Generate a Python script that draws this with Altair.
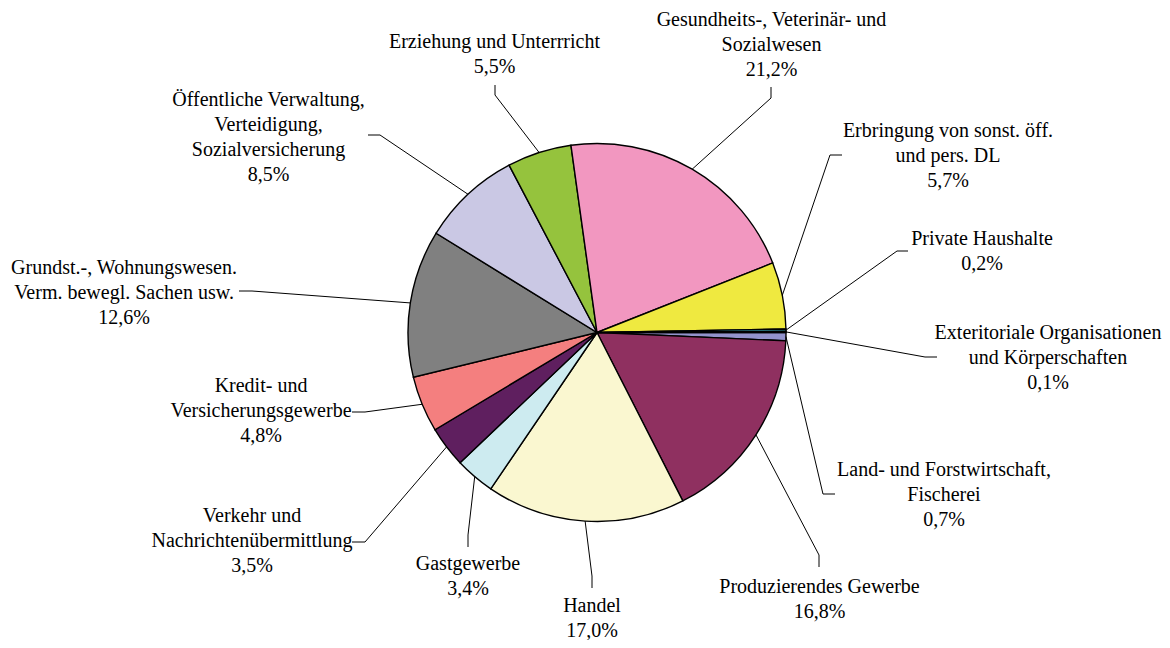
import math
import altair as alt
import pandas as pd

# ---------------- data ----------------
names = [
    "Land- und Forstwirtschaft, Fischerei",
    "Produzierendes Gewerbe",
    "Handel",
    "Gastgewerbe",
    "Verkehr und Nachrichtenübermittlung",
    "Kredit- und Versicherungsgewerbe",
    "Grundst.-, Wohnungswesen. Verm. bewegl. Sachen usw.",
    "Öffentliche Verwaltung, Verteidigung, Sozialversicherung",
    "Erziehung und Unterrricht",
    "Gesundheits-, Veterinär- und Sozialwesen",
    "Erbringung von sonst. öff. und pers. DL",
    "Private Haushalte",
    "Exteritoriale Organisationen und Körperschaften",
]
label_lines = [
    ["Land- und Forstwirtschaft,", "Fischerei"],
    ["Produzierendes Gewerbe"],
    ["Handel"],
    ["Gastgewerbe"],
    ["Verkehr und", "Nachrichtenübermittlung"],
    ["Kredit- und", "Versicherungsgewerbe"],
    ["Grundst.-, Wohnungswesen.", "Verm. bewegl. Sachen usw."],
    ["Öffentliche Verwaltung,", "Verteidigung,", "Sozialversicherung"],
    ["Erziehung und Unterrricht"],
    ["Gesundheits-, Veterinär- und", "Sozialwesen"],
    ["Erbringung von sonst. öff.", "und pers. DL"],
    ["Private Haushalte"],
    ["Exteritoriale Organisationen", "und Körperschaften"],
]
shares = [0.7, 16.8, 17.0, 3.4, 3.5, 4.8, 12.6, 8.5, 5.5, 21.2, 5.7, 0.2, 0.1]

# ---------------- styles / layout ----------------
colors = ["#9393cc", "#8f3060", "#faf7d0", "#cdebf0", "#5f1f5f", "#f47f7f",
          "#808080", "#cac8e4", "#95c33d", "#f297c0", "#efe940", "#45c3d2", "#336699"]

MARGIN = 8          # page margin
W, H = 1154, 632    # chart size
CX, CY, R = 597 - MARGIN, 332.5 - MARGIN, 189   # pie centre / radius (chart px)
LINE_H = 25
FONT = "Liberation Serif"
FONT_SIZE = 20

# label anchor (page px): centre x, first line centre y
label_x = [944, 819.5, 592, 468, 252, 261, 124, 268.5, 494.5, 771.5, 948, 982, 1048]
label_y = [470, 587, 606, 564, 516, 386, 268, 100, 42, 20, 131, 239, 333]
# leader line elbow and end (page px)
elbow_x = [823, 819, 592, 468, 365, 365, 252, 380, 495, 771, 830, 897, 925]
elbow_y = [494, 555, 576, 535, 542, 412, 291, 135, 95, 98, 155, 251, 357]
end_x = [835, 819, 592, 468, 352, 352, 239, 368, 495, 771, 842, 908, 937]
end_y = [494, 567, 588, 547, 542, 412, 291, 135, 85, 87, 155, 251, 357]

df = pd.DataFrame({
    "idx": list(range(len(names))),
    "name": names,
    "share": shares,
    "bx": [v - MARGIN for v in elbow_x],
    "by": [v - MARGIN for v in elbow_y],
    "qx": [v - MARGIN for v in end_x],
    "qy": [v - MARGIN for v in end_y],
})

rows = []
for i, (lines, v) in enumerate(zip(label_lines, shares)):
    all_lines = lines + [f"{v:.1f}".replace(".", ",") + "%"]
    for j, t in enumerate(all_lines):
        rows.append({"tx": label_x[i] - MARGIN,
                     "ty": label_y[i] - MARGIN + j * LINE_H,
                     "text": t})
text_df = pd.DataFrame(rows)

# ---------------- chart ----------------
start = math.pi / 2
pie = alt.Chart(df).mark_arc(
    x=CX, y=CY, outerRadius=R, stroke="black", strokeWidth=1.4
).encode(
    theta=alt.Theta("share:Q", stack=True,
                    scale=alt.Scale(range=[start, start + 2 * math.pi])),
    color=alt.Color("name:N", scale=alt.Scale(domain=names, range=colors), legend=None),
    order=alt.Order("idx:Q", sort="ascending"),
)

lead = alt.Chart(df).transform_window(
    cum="sum(share)", sort=[alt.SortField("idx", order="ascending")], frame=[None, 0]
).transform_joinaggregate(
    total="sum(share)"
).transform_calculate(
    mid=f"{start} + 2*PI*(datum.cum - datum.share/2)/datum.total"
).transform_calculate(
    ex=f"{CX} + {R}*sin(datum.mid)"
).transform_calculate(
    ey=f"{CY} - {R}*cos(datum.mid)"
)

seg1 = lead.mark_rule(color="black", strokeWidth=1).encode(
    x=alt.X("ex:Q", scale=None, axis=None),
    y=alt.Y("ey:Q", scale=None, axis=None),
    x2="bx:Q",
    y2="by:Q",
)
seg2 = lead.mark_rule(color="black", strokeWidth=1).encode(
    x=alt.X("bx:Q", scale=None, axis=None),
    y=alt.Y("by:Q", scale=None, axis=None),
    x2="qx:Q",
    y2="qy:Q",
)

labels = alt.Chart(text_df).mark_text(
    font=FONT, fontSize=FONT_SIZE, align="center", baseline="middle", color="black"
).encode(
    x=alt.X("tx:Q", scale=None, axis=None),
    y=alt.Y("ty:Q", scale=None, axis=None),
    text="text:N",
)

chart = alt.layer(pie, seg1, seg2, labels).properties(
    width=W, height=H, padding=0,
    autosize=alt.AutoSizeParams(type="fit", contains="padding"),
).configure_view(stroke=None)

chart.save("out.html", embed_options={"renderer": "svg", "actions": False})
